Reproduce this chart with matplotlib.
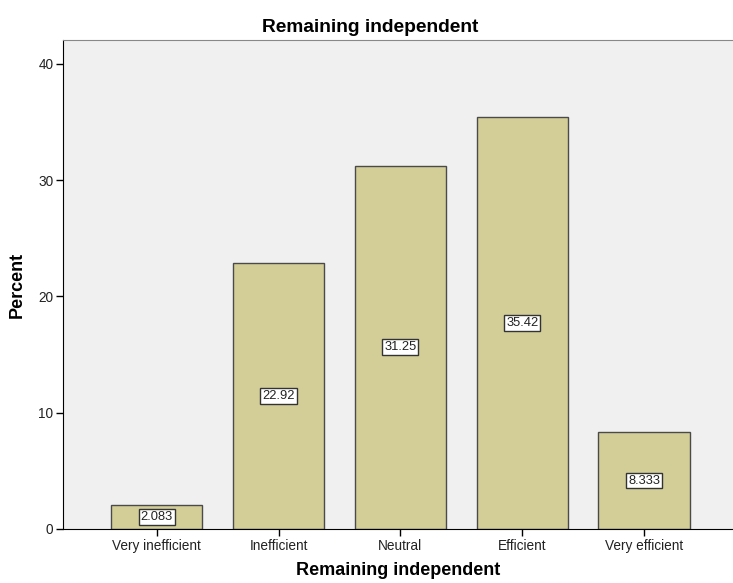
import matplotlib.pyplot as plt
import numpy as np

plt.rcParams["font.family"] = ["Liberation Sans", "DejaVu Sans"]

# Data
categories = ["Very inefficient", "Inefficient", "Neutral", "Efficient", "Very efficient"]
percents = [2.083, 22.92, 31.25, 35.42, 8.333]
value_labels = ["2.083", "22.92", "31.25", "35.42", "8.333"]
y_ticks = [0, 10, 20, 30, 40]

fig = plt.figure(figsize=(7.33, 5.83), dpi=100)
ax = fig.add_axes([63 / 733, 54 / 583, 1 - 63 / 733, (529 - 40) / 583])
ax.set_facecolor("#f0f0f0")

x = np.arange(len(categories))
ax.bar(x, percents, width=0.75, color="#d3ce98", edgecolor="#4a4a4a", linewidth=1.0, zorder=2)

# value boxes at mid height
for xi, v, lab in zip(x, percents, value_labels):
    ax.text(xi, v / 2, lab, ha="center", va="center", fontsize=9.3, color="#222222", zorder=3,
            bbox=dict(boxstyle="square,pad=0.15", fc="white", ec="#333333", lw=1.0))

ax.set_xlim(-0.77, 4.73)
ax.set_ylim(0, 42.06)
ax.set_xticks(x)
ax.set_xticklabels(categories, fontsize=9.8, color="#222222")
ax.set_yticks(y_ticks)
ax.set_yticklabels([str(t) for t in y_ticks], fontsize=9.8, color="#222222")
ax.tick_params(axis="both", direction="out", length=5, width=1, color="black", pad=2)

ax.spines["left"].set_color("black")
ax.spines["bottom"].set_color("black")
ax.spines["top"].set_color("#888888")
ax.spines["right"].set_visible(False)

fig.text(370 / 733, 1 - 27 / 583, "Remaining independent", ha="center", va="center",
         fontsize=13.8, fontweight="bold")
ax.set_xlabel("Remaining independent", fontsize=13, fontweight="bold", labelpad=7)
ax.set_ylabel("Percent", fontsize=13, fontweight="bold", labelpad=9)

fig.savefig("out.png", dpi=100)
